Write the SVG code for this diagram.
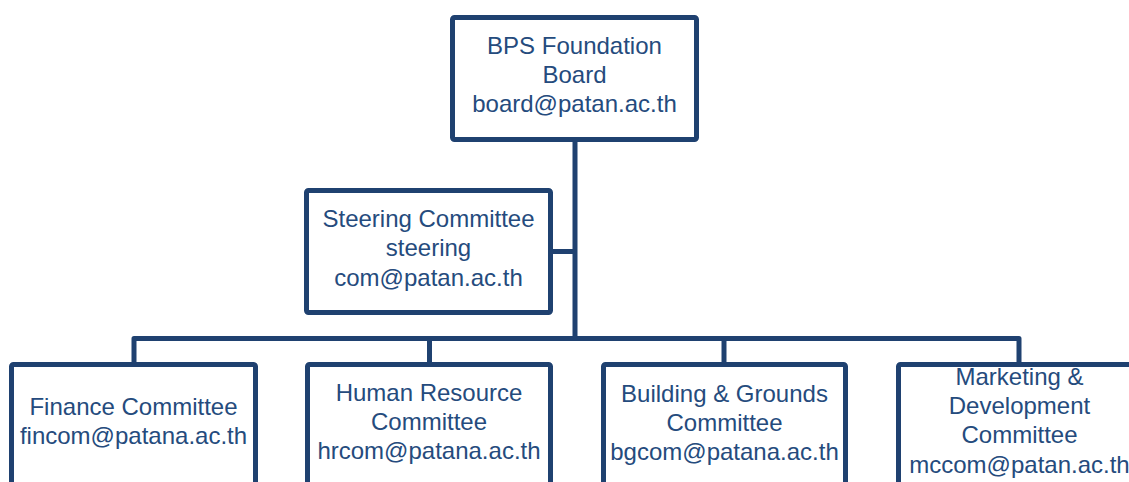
<svg xmlns="http://www.w3.org/2000/svg" width="1129" height="482" viewBox="0 0 1129 482">
  <style>
    .box { fill: #ffffff; stroke: #1f4170; stroke-width: 5; }
    .wire { fill: none; stroke: #1f4170; stroke-width: 5; stroke-linejoin: round; }
    .lbl { font-family: "Liberation Sans", Arial, sans-serif; font-size: 24px; fill: #254b7d; text-anchor: middle; }
  </style>
  <rect width="1129" height="482" fill="#ffffff"/>

  <!-- connectors -->
  <g id="connectors">
    <path class="wire" d="M575,142 V338.5"/>
    <path class="wire" d="M553,251.5 H575"/>
    <path class="wire" d="M134,362 V338.5 H1019 V362"/>
    <path class="wire" d="M429.5,338.5 V362"/>
    <path class="wire" d="M724,338.5 V362"/>
  </g>

  <g id="board">
    <rect class="box" x="452.5" y="17.5" width="244" height="122" rx="2"/>
    <text class="lbl" x="574.5" y="54">BPS Foundation</text>
    <text class="lbl" x="574.5" y="83">Board</text>
    <text class="lbl" x="574.5" y="112">board@patan.ac.th</text>
  </g>

  <g id="steering">
    <rect class="box" x="306.5" y="190.5" width="244" height="122" rx="2"/>
    <text class="lbl" x="428.5" y="227">Steering Committee</text>
    <text class="lbl" x="428.5" y="256">steering</text>
    <text class="lbl" x="428.5" y="286">com@patan.ac.th</text>
  </g>

  <g id="finance">
    <rect class="box" x="11.5" y="364.5" width="244" height="150" rx="2"/>
    <text class="lbl" x="133.5" y="415">Finance Committee</text>
    <text class="lbl" x="133.5" y="444">fincom@patana.ac.th</text>
  </g>

  <g id="hr">
    <rect class="box" x="307.5" y="364.5" width="243" height="150" rx="2"/>
    <text class="lbl" x="429" y="401">Human Resource</text>
    <text class="lbl" x="429" y="430">Committee</text>
    <text class="lbl" x="429" y="459">hrcom@patana.ac.th</text>
  </g>

  <g id="buildings">
    <rect class="box" x="603.5" y="364.5" width="242" height="150" rx="2"/>
    <text class="lbl" x="724.5" y="401.5">Building &amp; Grounds</text>
    <text class="lbl" x="724.5" y="430.5">Committee</text>
    <text class="lbl" x="724.5" y="460">bgcom@patana.ac.th</text>
  </g>

  <g id="marketing">
    <rect class="box" x="898.5" y="364.5" width="260" height="150" rx="2"/>
    <text class="lbl" x="1019.5" y="385">Marketing &amp;</text>
    <text class="lbl" x="1019.5" y="414">Development</text>
    <text class="lbl" x="1019.5" y="443">Committee</text>
    <text class="lbl" x="1019.5" y="472.5">mccom@patan.ac.th</text>
  </g>
</svg>
